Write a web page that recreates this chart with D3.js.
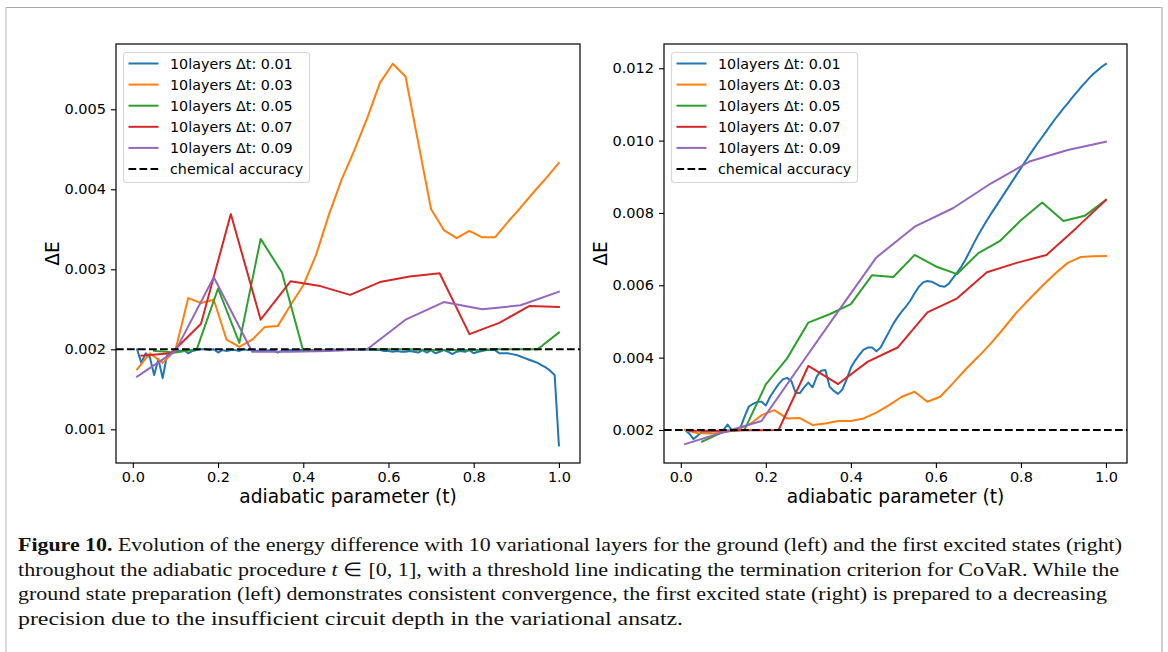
<!DOCTYPE html>
<html>
<head>
<meta charset="utf-8">
<script src="https://cdn.jsdelivr.net/npm/d3@7"></script>
<style>
  html, body { margin: 0; padding: 0; background: #fff; }
  svg { display: block; }
</style>
</head>
<body>
<svg id="fig" width="1168" height="652"></svg>
<script>
// ---- sampling grids of the adiabatic parameter t ----
const tStep01 = [0.01,0.02,0.03,0.04,0.05,0.06,0.07,0.08,0.09,0.10,
  0.11,0.12,0.13,0.14,0.15,0.16,0.17,0.18,0.19,0.20,
  0.21,0.22,0.23,0.24,0.25,0.26,0.27,0.28,0.29,0.30,
  0.31,0.32,0.33,0.34,0.35,0.36,0.37,0.38,0.39,0.40,
  0.41,0.42,0.43,0.44,0.45,0.46,0.47,0.48,0.49,0.50,
  0.51,0.52,0.53,0.54,0.55,0.56,0.57,0.58,0.59,0.60,
  0.61,0.62,0.63,0.64,0.65,0.66,0.67,0.68,0.69,0.70,
  0.71,0.72,0.73,0.74,0.75,0.76,0.77,0.78,0.79,0.80,
  0.81,0.82,0.83,0.84,0.85,0.86,0.87,0.88,0.89,0.90,
  0.91,0.92,0.93,0.94,0.95,0.96,0.97,0.98,0.99,1.00];
const tStep03 = [0.01,0.04,0.07,0.10,0.13,0.16,0.19,0.22,0.25,0.28,0.31,0.34,
  0.37,0.40,0.43,0.46,0.49,0.52,0.55,0.58,0.61,0.64,0.67,0.70,0.73,0.76,
  0.79,0.82,0.85,0.88,0.91,0.94,0.97,1.00];
const tStep05 = [0.05,0.10,0.15,0.20,0.25,0.30,0.35,0.40,0.45,0.50,
  0.55,0.60,0.65,0.70,0.75,0.80,0.85,0.90,0.95,1.00];
const tStep07 = [0.02,0.09,0.16,0.23,0.30,0.37,0.44,0.51,0.58,0.65,0.72,0.79,0.86,0.93,1.00];
const tStep09 = [0.01,0.10,0.19,0.28,0.37,0.46,0.55,0.64,0.73,0.82,0.91,1.00];

// ---- ground state (left panel): energy difference ΔE ----
const groundDt01 = [0.00200,0.00183,0.00195,0.00190,0.00168,0.00188,0.00164,0.00192,0.00195,0.00197,
  0.00198,0.00199,0.00195,0.00198,0.00199,0.00200,0.00200,0.00199,0.00200,0.00196,
  0.00199,0.00198,0.00199,0.00199,0.00198,0.00200,0.00199,0.00199,0.00198,0.00199,
  0.00198,0.00199,0.00199,0.00196,0.00198,0.00199,0.00199,0.00199,0.00199,0.00199,
  0.00200,0.00199,0.00199,0.00200,0.00199,0.00199,0.00200,0.00199,0.00199,0.00200,
  0.00199,0.00200,0.00199,0.00199,0.00200,0.00199,0.00199,0.00199,0.00198,0.00198,
  0.00197,0.00198,0.00197,0.00197,0.00198,0.00197,0.00196,0.00199,0.00196,0.00199,
  0.00195,0.00197,0.00199,0.00197,0.00194,0.00197,0.00198,0.00197,0.00199,0.00195,
  0.00197,0.00198,0.00199,0.00199,0.00199,0.00195,0.00195,0.00195,0.00194,0.00193,
  0.00191,0.00189,0.00187,0.00185,0.00183,0.00180,0.00177,0.00173,0.00168,0.00080];
const groundDt03 = [0.00175,0.00195,0.00183,0.00199,0.00264,0.00258,0.00262,0.00212,0.00203,0.00212,
  0.00228,0.00229,0.00255,0.00280,0.00318,0.00368,0.00412,0.00449,0.00489,0.00533,
  0.00557,0.00541,0.00458,0.00375,0.00349,0.00339,0.00348,0.00340,0.00340,0.00359,
  0.00377,0.00396,0.00414,0.00433];
const groundDt05 = [0.00198,0.00196,0.00200,0.00276,0.00208,0.00338,0.00296,0.00198,0.00199,0.00199,
  0.00200,0.00200,0.00200,0.00199,0.00199,0.00199,0.00200,0.00200,0.00200,0.00221];
const groundDt07 = [0.00192,0.00195,0.00232,0.00369,0.00237,0.00285,0.00279,0.00268,0.00284,0.00291,
  0.00295,0.00219,0.00233,0.00254,0.00253];
const groundDt09 = [0.00166,0.00198,0.00290,0.00197,0.00197,0.00198,0.00200,0.00237,0.00259,0.00250,
  0.00255,0.00272];

// ---- first excited state (right panel): energy difference ΔE ----
const excitedDt01 = [0.00200,0.00190,0.00175,0.00185,0.00195,0.00196,0.00195,0.00197,0.00198,0.00200,
  0.00215,0.00200,0.00200,0.00205,0.00237,0.00265,0.00272,0.00278,0.00278,0.00268,
  0.00292,0.00310,0.00327,0.00340,0.00344,0.00335,0.00303,0.00302,0.00318,0.00331,
  0.00318,0.00348,0.00364,0.00366,0.00320,0.00308,0.00300,0.00312,0.00340,0.00372,
  0.00392,0.00408,0.00422,0.00428,0.00428,0.00418,0.00428,0.00450,0.00472,0.00494,
  0.00512,0.00528,0.00542,0.00558,0.00578,0.00596,0.00608,0.00612,0.00610,0.00604,
  0.00598,0.00596,0.00604,0.00620,0.00635,0.00652,0.00672,0.00695,0.00718,0.00740,
  0.00760,0.00780,0.00798,0.00816,0.00834,0.00852,0.00870,0.00888,0.00906,0.00924,
  0.00942,0.00960,0.00977,0.00994,0.01010,0.01026,0.01043,0.01059,0.01074,0.01089,
  0.01103,0.01118,0.01132,0.01146,0.01159,0.01172,0.01184,0.01194,0.01204,0.01212];
const excitedDt03 = [0.00200,0.00191,0.00190,0.00194,0.00200,0.00214,0.00241,0.00255,0.00232,0.00233,
  0.00214,0.00218,0.00225,0.00225,0.00232,0.00248,0.00269,0.00292,0.00306,0.00278,
  0.00292,0.00329,0.00368,0.00403,0.00440,0.00482,0.00525,0.00562,0.00598,0.00632,
  0.00662,0.00678,0.00680,0.00681];
const excitedDt05 = [0.00168,0.00195,0.00201,0.00326,0.00398,0.00497,0.00520,0.00548,0.00628,0.00623,
  0.00684,0.00652,0.00631,0.00689,0.00722,0.00780,0.00829,0.00778,0.00792,0.00836];
const excitedDt07 = [0.00198,0.00198,0.00199,0.00200,0.00377,0.00327,0.00389,0.00428,0.00525,0.00564,
  0.00636,0.00662,0.00684,0.00758,0.00836];
const excitedDt09 = [0.00161,0.00194,0.00225,0.00377,0.00528,0.00677,0.00762,0.00813,0.00882,0.00942,
  0.00974,0.00997];

// ---- labels, ticks and threshold ----
const seriesLabels = ["10layers Δt: 0.01","10layers Δt: 0.03","10layers Δt: 0.05","10layers Δt: 0.07","10layers Δt: 0.09"];
const thresholdLabel = "chemical accuracy";
const chemicalAccuracy = 0.002;
const xTicks = [0.0, 0.2, 0.4, 0.6, 0.8, 1.0];
const groundYTicks = [0.001, 0.002, 0.003, 0.004, 0.005];
const excitedYTicks = [0.002, 0.004, 0.006, 0.008, 0.010, 0.012];
const xLabel = "adiabatic parameter (t)";
const yLabel = "ΔE";
const captionLines = [
  [{b:"Figure 10."},{t:" Evolution of the energy difference with 10 variational layers for the ground (left) and the first excited states (right)"}],
  [{t:"throughout the adiabatic procedure "},{i:"t"},{t:" ∈ [0, 1], with a threshold line indicating the termination criterion for CoVaR. While the"}],
  [{t:"ground state preparation (left) demonstrates consistent convergence, the first excited state (right) is prepared to a decreasing"}],
  [{t:"precision due to the insufficient circuit depth in the variational ansatz."}]
];

const palette = ["#1f77b4","#ff7f0e","#2ca02c","#d62728","#9467bd"];

const panels = [
  { left: 116, right: 580, yDomain: [0.000579, 0.005816], yTicks: groundYTicks, yLabelX: 59,
    series: [[tStep01, groundDt01],[tStep03, groundDt03],[tStep05, groundDt05],[tStep07, groundDt07],[tStep09, groundDt09]] },
  { left: 664, right: 1127, yDomain: [0.001088, 0.01267], yTicks: excitedYTicks, yLabelX: 607,
    series: [[tStep01, excitedDt01],[tStep03, excitedDt03],[tStep05, excitedDt05],[tStep07, excitedDt07],[tStep09, excitedDt09]] }
];
const plotTop = 44, plotBottom = 463;
const FONT = "'DejaVu Sans', sans-serif";

const svg = d3.select("#fig");

// page frame
svg.append("line").attr("x1", 6).attr("x2", 1162).attr("y1", 7.5).attr("y2", 7.5)
  .attr("stroke", "#a8a8a8").attr("stroke-width", 1.2);
svg.append("line").attr("x1", 6).attr("x2", 6).attr("y1", 7).attr("y2", 652)
  .attr("stroke", "#cfcfcf").attr("stroke-width", 1.5);
svg.append("line").attr("x1", 1162).attr("x2", 1162).attr("y1", 7).attr("y2", 652)
  .attr("stroke", "#cfcfcf").attr("stroke-width", 2);

panels.forEach((p, pi) => {
  const x = d3.scaleLinear().domain([-0.0395, 1.0495]).range([p.left, p.right]);
  const y = d3.scaleLinear().domain(p.yDomain).range([plotBottom, plotTop]);
  const g = svg.append("g");

  const clipId = "clip" + pi;
  svg.append("clipPath").attr("id", clipId).append("rect")
    .attr("x", p.left).attr("y", plotTop).attr("width", p.right - p.left).attr("height", plotBottom - plotTop);

  const line = d3.line().x(d => x(d[0])).y(d => y(d[1]));
  const plot = g.append("g").attr("clip-path", `url(#${clipId})`);
  p.series.forEach(([ts, vs], k) => {
    plot.append("path")
      .datum(ts.map((t, i) => [t, vs[i]]))
      .attr("d", line)
      .attr("fill", "none")
      .attr("stroke", palette[k])
      .attr("stroke-width", 2)
      .attr("stroke-linejoin", "round")
      .attr("stroke-linecap", "square");
  });
  plot.append("line")
    .attr("x1", p.left).attr("x2", p.right)
    .attr("y1", y(chemicalAccuracy)).attr("y2", y(chemicalAccuracy))
    .attr("stroke", "#000").attr("stroke-width", 2)
    .attr("stroke-dasharray", "7.7,3.3");

  // axes
  const xAxis = d3.axisBottom(x).tickValues(xTicks).tickFormat(d3.format(".1f"))
    .tickSize(5).tickPadding(4);
  const yAxis = d3.axisLeft(y).tickValues(p.yTicks).tickFormat(d3.format(".3f"))
    .tickSize(5).tickPadding(5);
  const gx = g.append("g").attr("transform", `translate(0,${plotBottom})`).call(xAxis);
  const gy = g.append("g").attr("transform", `translate(${p.left},0)`).call(yAxis);
  [gx, gy].forEach(a => {
    a.select(".domain").remove();
    a.selectAll(".tick line").attr("stroke", "#000").attr("stroke-width", 1.1);
    a.selectAll(".tick text").attr("fill", "#000").style("font-family", FONT).style("font-size", "14.5px");
  });

  // spines
  g.append("rect").attr("x", p.left).attr("y", plotTop)
    .attr("width", p.right - p.left).attr("height", plotBottom - plotTop)
    .attr("fill", "none").attr("stroke", "#000").attr("stroke-width", 1.2);

  // axis labels
  g.append("text").attr("x", (p.left + p.right) / 2).attr("y", 503)
    .attr("text-anchor", "middle").style("font-family", FONT).style("font-size", "18.6px")
    .attr("fill", "#000").text(xLabel);
  g.append("text").attr("transform", `translate(${p.yLabelX},${(plotTop + plotBottom) / 2}) rotate(-90)`)
    .attr("text-anchor", "middle").style("font-family", FONT).style("font-size", "18.6px")
    .attr("fill", "#000").text(yLabel);

  // legend
  const lx = p.left + 7.5, ly = 52.5, lw = 186, lh = 130;
  const lg = g.append("g");
  lg.append("rect").attr("x", lx).attr("y", ly).attr("width", lw).attr("height", lh)
    .attr("rx", 3).attr("fill", "#fff").attr("fill-opacity", 0.8)
    .attr("stroke", "#d6d6d6").attr("stroke-width", 1.1);
  const entries = seriesLabels.map((s, k) => ({ label: s, color: palette[k], dash: null }))
    .concat([{ label: thresholdLabel, color: "#000", dash: "7.7,3.3" }]);
  entries.forEach((e, k) => {
    const cy = 63.5 + k * 21.1;
    lg.append("line").attr("x1", lx + 5).attr("x2", lx + 35).attr("y1", cy).attr("y2", cy)
      .attr("stroke", e.color).attr("stroke-width", 2)
      .attr("stroke-dasharray", e.dash);
    lg.append("text").attr("x", lx + 46.5).attr("y", cy).attr("dy", "0.36em")
      .style("font-family", FONT).style("font-size", "14.3px").attr("fill", "#000").text(e.label);
  });
});

// caption
const cap = svg.append("g");
const capY = [551, 575.5, 600, 624.5];
captionLines.forEach((parts, li) => {
  const txt = cap.append("text").attr("x", 18).attr("y", capY[li])
    .style("font-family", "'Liberation Serif', 'Times New Roman', serif")
    .style("font-size", "19px").attr("fill", "#111");
  parts.forEach(pt => {
    const ts = txt.append("tspan");
    if (pt.b) ts.attr("font-weight", "bold").text(pt.b);
    else if (pt.i) ts.attr("font-style", "italic").text(pt.i);
    else ts.text(pt.t);
  });
});
// each caption line is set to the measure of the text column
const lineEnds = [1122, 1119, 1107, 683];
cap.selectAll("text").each(function(d, i) {
  d3.select(this).attr("textLength", lineEnds[i] - 18).attr("lengthAdjust", "spacingAndGlyphs");
});
</script>
</body>
</html>
